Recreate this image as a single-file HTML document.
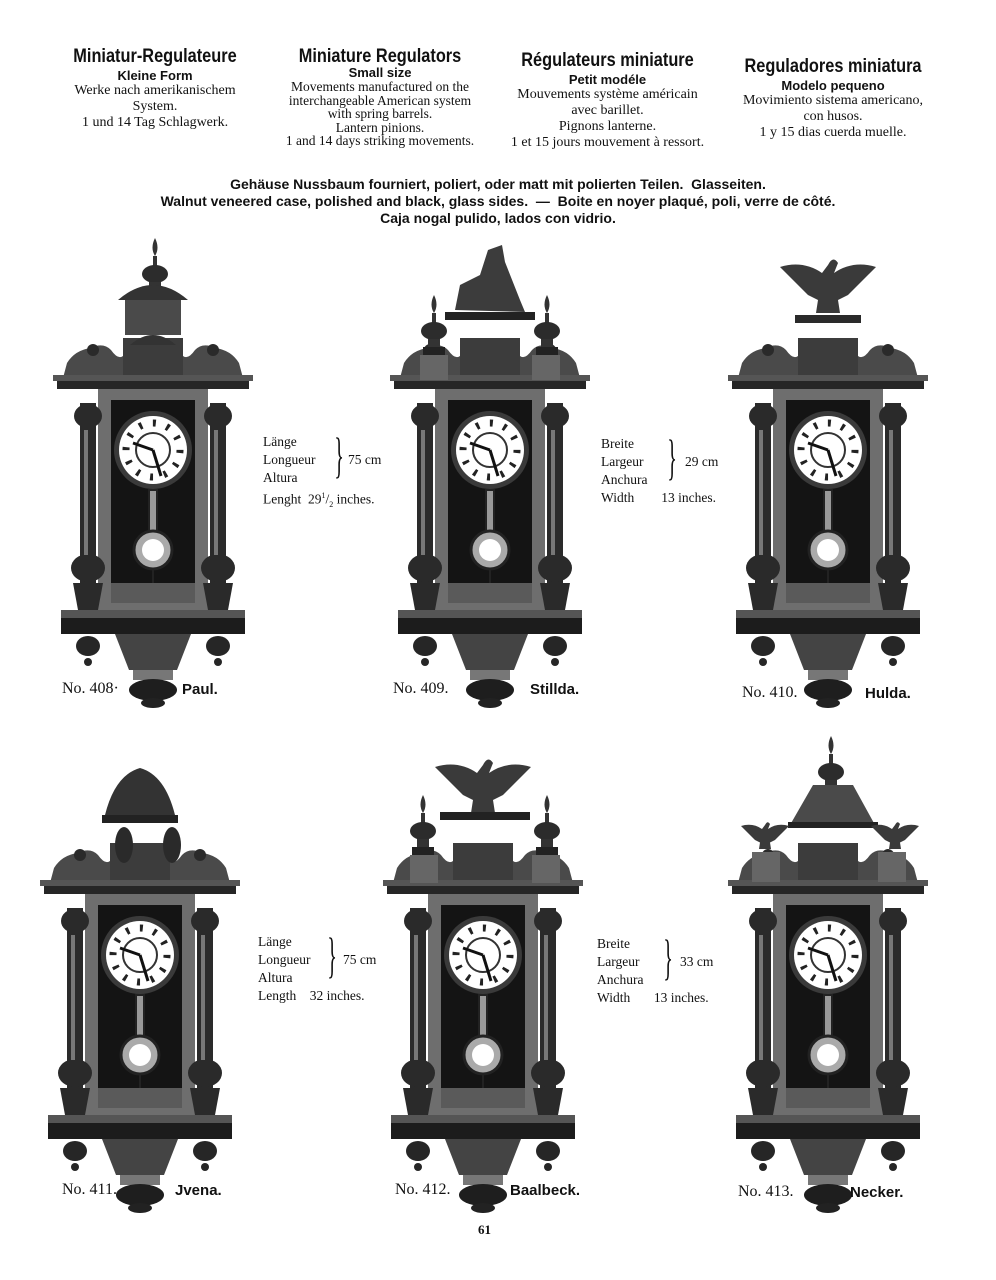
<!DOCTYPE html>
<html><head><meta charset="utf-8"><style>
body{margin:0;background:#fff;}
#p{position:relative;width:996px;height:1280px;overflow:hidden;background:#fff;font-family:"Liberation Serif",serif;color:#111;}
.t{position:absolute;white-space:nowrap;}
.c{text-align:center;}
.h{font-family:"Liberation Sans",sans-serif;font-size:19px;font-weight:bold;transform:scaleX(0.86);transform-origin:center;}
.sb{font-family:"Liberation Sans",sans-serif;font-weight:bold;font-size:13px;}
.s{font-size:14px;}
.b{font-family:"Liberation Sans",sans-serif;font-weight:bold;font-size:14px;}
.d{font-size:13.5px;line-height:18px;}
.no{font-size:16px;}
.nm{font-family:"Liberation Sans",sans-serif;font-weight:bold;font-size:15px;}
</style></head><body><div id="p">
<svg width="996" height="1280" style="position:absolute;left:0;top:0">
<defs>
<symbol id="body" viewBox="0 0 200 470" width="200" height="470">
 <path d="M10,140 L14,125 Q22,112 38,110 Q50,104 58,112 Q65,122 70,118 L70,100 L130,100 L130,118 Q135,122 142,112 Q150,104 162,110 Q178,112 186,125 L190,140 Z" fill="#4a4a4a"/>
 <circle cx="40" cy="112" r="6" fill="#2a2a2a"/><circle cx="160" cy="112" r="6" fill="#2a2a2a"/>
 <rect x="70" y="100" width="60" height="38" fill="#3c3c3c"/>
 <rect x="0" y="137" width="200" height="6" fill="#555"/>
 <rect x="4" y="143" width="192" height="8" fill="#262626"/>
 <rect x="45" y="151" width="110" height="224" fill="#6e6e6e"/>
 <rect x="58" y="162" width="84" height="200" fill="#141414"/>
 <rect x="58" y="345" width="84" height="20" fill="#5a5a5a"/>
 <circle cx="100" cy="212" r="39" fill="#3a3a3a"/>
 <circle cx="100" cy="212" r="34" fill="#fff"/>
 <circle cx="100" cy="212" r="27" fill="none" stroke="#222" stroke-width="7" stroke-dasharray="3 11.1"/>
 <circle cx="100" cy="212" r="17" fill="none" stroke="#333" stroke-width="2"/>
 <path d="M100,212 L80,205 M100,212 L108,238" stroke="#111" stroke-width="3"/>
 <rect x="96" y="252" width="8" height="43" fill="#999" stroke="#222" stroke-width="2"/>
 <circle cx="100" cy="312" r="19" fill="#aaa" stroke="#222" stroke-width="3"/>
 <circle cx="100" cy="312" r="11" fill="#fff"/>
 <path d="M100,331 L100,345" stroke="#222" stroke-width="2"/>
 <g fill="#2a2a2a">
  <rect x="27" y="165" width="16" height="200"/><rect x="157" y="165" width="16" height="200"/>
  <ellipse cx="35" cy="178" rx="14" ry="12"/><ellipse cx="165" cy="178" rx="14" ry="12"/>
  <ellipse cx="35" cy="330" rx="17" ry="14"/><ellipse cx="165" cy="330" rx="17" ry="14"/>
  <path d="M20,345 L50,345 L45,372 L25,372Z"/><path d="M150,345 L180,345 L175,372 L155,372Z"/>
 </g>
 <rect x="31" y="192" width="4" height="125" fill="#777"/><rect x="161" y="192" width="4" height="125" fill="#777"/>
 <rect x="8" y="372" width="184" height="8" fill="#555"/>
 <rect x="8" y="380" width="184" height="16" fill="#1c1c1c"/>
 <g fill="#262626">
  <ellipse cx="35" cy="408" rx="12" ry="10"/><ellipse cx="165" cy="408" rx="12" ry="10"/>
  <circle cx="35" cy="424" r="4"/><circle cx="165" cy="424" r="4"/>
 </g>
 <path d="M62,396 L138,396 L124,432 L76,432 Z" fill="#444"/>
 <rect x="80" y="432" width="40" height="10" fill="#777"/>
 <ellipse cx="100" cy="452" rx="24" ry="11" fill="#1e1e1e"/>
 <ellipse cx="100" cy="465" rx="12" ry="5" fill="#222"/>
</symbol>
<symbol id="fin" viewBox="0 0 30 60" width="30" height="60">
 <path d="M15,0 Q20,10 15,18 Q10,10 15,0Z M13,18 L17,18 L17,28 L13,28Z" fill="#333"/>
 <ellipse cx="15" cy="36" rx="13" ry="9" fill="#2c2c2c"/>
 <rect x="9" y="44" width="12" height="8" fill="#333"/>
 <rect x="4" y="52" width="22" height="8" fill="#222"/>
</symbol>
<symbol id="eagle" viewBox="0 0 100 60" width="100" height="60">
 <path d="M50,10 Q55,0 60,8 L56,18 Q75,5 98,12 Q85,25 70,40 L60,45 L62,58 L38,58 L40,45 L30,40 Q15,25 2,12 Q25,5 44,18 Z" fill="#3a3a3a"/>
</symbol>
</defs>
<use href="#body" x="53" y="238"/>
<use href="#fin" x="140" y="238"/>
<path d="M118,300 Q153,270 188,300 Z" fill="#333"/>
<rect x="125" y="300" width="56" height="35" fill="#4a4a4a"/>
<path d="M130,345 Q153,325 176,345 Z" fill="#333"/>

<use href="#body" x="390" y="238"/>
<path d="M455,310 L460,285 L480,275 L488,250 L502,245 L505,262 L520,300 L525,312 Z" fill="#3c3c3c"/>
<rect x="445" y="312" width="90" height="8" fill="#222"/>
<use href="#fin" x="419" y="295"/><use href="#fin" x="532" y="295"/>
<rect x="420" y="355" width="28" height="25" fill="#666"/><rect x="532" y="355" width="28" height="25" fill="#666"/>

<use href="#body" x="728" y="238"/>
<use href="#eagle" x="778" y="255"/>
<rect x="795" y="315" width="66" height="8" fill="#2a2a2a"/>

<use href="#body" x="40" y="743"/>
<path d="M105,815 Q115,775 140,768 Q165,775 175,815 Z" fill="#333"/>
<rect x="102" y="815" width="76" height="8" fill="#222"/>
<ellipse cx="124" cy="845" rx="9" ry="18" fill="#2a2a2a"/><ellipse cx="172" cy="845" rx="9" ry="18" fill="#2a2a2a"/>

<use href="#body" x="383" y="743"/>
<use href="#eagle" x="433" y="755"/>
<rect x="440" y="812" width="90" height="8" fill="#222"/>
<use href="#fin" x="408" y="795"/><use href="#fin" x="532" y="795"/>
<rect x="410" y="855" width="28" height="28" fill="#666"/><rect x="532" y="855" width="28" height="28" fill="#666"/>

<use href="#body" x="728" y="743"/>
<use href="#fin" x="816" y="736"/>
<path d="M790,825 L813,785 L853,785 L875,825 Z" fill="#4a4a4a"/>
<rect x="788" y="822" width="90" height="6" fill="#222"/>
<use href="#eagle" x="740" y="815" width="50" height="40"/>
<use href="#eagle" x="870" y="815" width="50" height="40"/>
<rect x="752" y="852" width="28" height="30" fill="#666"/><rect x="878" y="852" width="28" height="30" fill="#666"/>
</svg>

<div class="t c" style="left:40px;width:230px;top:46px"><div class="h">Miniatur-Regulateure</div><div class="sb">Kleine Form</div><div class="s" style="line-height:16px">Werke nach amerikanischem<br>System.<br>1 und 14 Tag Schlagwerk.</div></div>
<div class="t c" style="left:255px;width:250px;top:46px"><div class="h">Miniature Regulators</div><div class="sb" style="margin-top:-3px">Small size</div><div class="s" style="line-height:13.5px;font-size:13.5px">Movements manufactured on the<br>interchangeable American system<br>with spring barrels.<br>Lantern pinions.<br>1 and 14 days striking movements.</div></div>
<div class="t c" style="left:490px;width:235px;top:50px"><div class="h">Régulateurs miniature</div><div class="sb">Petit modéle</div><div class="s" style="line-height:16px">Mouvements système américain<br>avec barillet.<br>Pignons lanterne.<br>1 et 15 jours mouvement à ressort.</div></div>
<div class="t c" style="left:718px;width:230px;top:56px"><div class="h">Reguladores miniatura</div><div class="sb">Modelo pequeno</div><div class="s" style="line-height:16px">Movimiento sistema americano,<br>con husos.<br>1 y 15 dias cuerda muelle.</div></div>

<div class="t c b" style="left:0;width:996px;top:176px;line-height:17px">Gehäuse Nussbaum fourniert, poliert, oder matt mit polierten Teilen.&nbsp; Glasseiten.<br>Walnut veneered case, polished and black, glass sides. &nbsp;—&nbsp; Boite en noyer plaqué, poli, verre de côté.<br>Caja nogal pulido, lados con vidrio.</div>

<div class="t d" style="left:263px;top:433px">Länge<br>Longueur<br>Altura<br>Lenght&nbsp; 29<sup style="font-size:8px">1</sup>/<sub style="font-size:8px">2</sub> inches.</div>
<div class="t d" style="left:348px;top:451px">75 cm</div>
<div class="t" style="left:327px;top:430px;font-size:50px;line-height:50px;transform:scaleX(0.4)">}</div>
<div class="t d" style="left:601px;top:435px">Breite<br>Largeur<br>Anchura<br>Width&nbsp;&nbsp;&nbsp;&nbsp;&nbsp;&nbsp;&nbsp; 13 inches.</div>
<div class="t d" style="left:685px;top:453px">29 cm</div>
<div class="t" style="left:660px;top:432px;font-size:50px;line-height:50px;transform:scaleX(0.4)">}</div>

<div class="t d" style="left:258px;top:933px">Länge<br>Longueur<br>Altura<br>Length&nbsp;&nbsp;&nbsp; 32 inches.</div>
<div class="t d" style="left:343px;top:951px">75 cm</div>
<div class="t" style="left:320px;top:930px;font-size:50px;line-height:50px;transform:scaleX(0.4)">}</div>
<div class="t d" style="left:597px;top:935px">Breite<br>Largeur<br>Anchura<br>Width&nbsp;&nbsp;&nbsp;&nbsp;&nbsp;&nbsp; 13 inches.</div>
<div class="t d" style="left:680px;top:953px">33 cm</div>
<div class="t" style="left:656px;top:932px;font-size:50px;line-height:50px;transform:scaleX(0.4)">}</div>

<div class="t no" style="left:62px;top:680px">No. 408·</div><div class="t nm" style="left:182px;top:681px">Paul.</div>
<div class="t no" style="left:393px;top:680px">No. 409.</div><div class="t nm" style="left:530px;top:681px">Stillda.</div>
<div class="t no" style="left:742px;top:684px">No. 410.</div><div class="t nm" style="left:865px;top:685px">Hulda.</div>
<div class="t no" style="left:62px;top:1181px">No. 411.</div><div class="t nm" style="left:175px;top:1182px">Jvena.</div>
<div class="t no" style="left:395px;top:1181px">No. 412.</div><div class="t nm" style="left:510px;top:1182px">Baalbeck.</div>
<div class="t no" style="left:738px;top:1183px">No. 413.</div><div class="t nm" style="left:850px;top:1184px">Necker.</div>
<div class="t" style="left:478px;top:1222px;font-size:13px;font-weight:bold">61</div>
</div></body></html>
